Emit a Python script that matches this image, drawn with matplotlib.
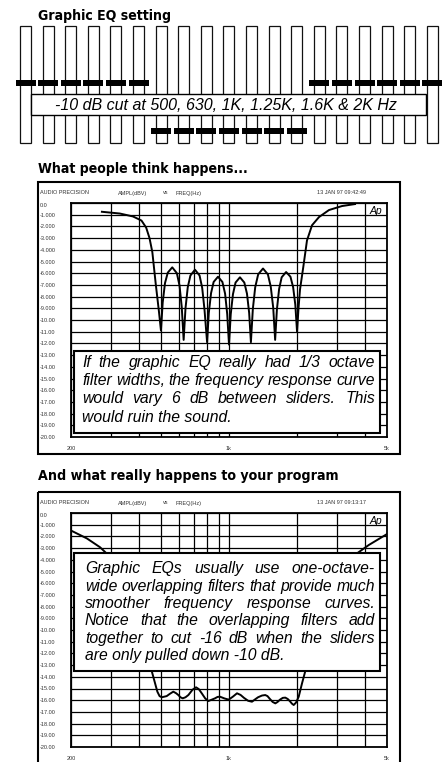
import os
import matplotlib
matplotlib.use('Agg')
import matplotlib.pyplot as plt
from matplotlib import font_manager as fm
from matplotlib.patches import Rectangle
from matplotlib.ticker import FixedLocator, NullLocator

plt.rcParams['font.family'] = ['Liberation Sans', 'DejaVu Sans']

W, H = 444, 762

# slider positions (dB) of the 19 bands shown in the EQ drawing
band_gain = [0, 0, 0, 0, 0, 0, -10, -10, -10, -10, -10, -10, -10, 0, 0, 0, 0, 0, 0]
eq_caption = "-10 dB cut at 500, 630, 1K, 1.25K, 1.6K & 2K Hz"

# chart 1: what people think (1/3 octave filters)
think_freq = [274, 329, 376, 410, 430, 445, 458, 474, 490,
              500, 509, 521, 536, 561, 588, 604, 618,
              630, 642, 657, 675, 707, 741, 761, 779,
              800, 814, 833, 855, 894, 935, 961, 982,
              1000, 1018, 1041, 1069, 1118, 1169, 1201, 1228,
              1250, 1275, 1306, 1346, 1414, 1486, 1530, 1569,
              1600, 1629, 1666, 1710, 1789, 1870, 1922, 1965,
              2000, 2030, 2061, 2132, 2184, 2213, 2330, 2502, 2770, 3162, 3610]
think_db = [-0.75, -0.9, -1.15, -1.5, -2.1, -3.0, -4.2, -6.9, -9.3,
            -10.9, -8.5, -6.85, -5.95, -5.5, -6.0, -7.05, -8.9,
            -11.7, -9.0, -7.2, -6.2, -5.7, -6.2, -7.25, -9.1,
            -11.9, -9.4, -7.7, -6.75, -6.3, -6.75, -7.75, -9.5,
            -12.1, -9.5, -7.8, -6.8, -6.35, -6.8, -7.75, -9.4,
            -11.9, -9.05, -7.2, -6.1, -5.6, -6.1, -7.15, -8.95,
            -11.7, -9.1, -7.35, -6.35, -5.9, -6.3, -7.2, -8.7,
            -11.0, -9.0, -7.4, -5.45, -4.0, -3.2, -1.9, -1.2, -0.6, -0.26, -0.09]

# chart 2: what really happens (octave-wide overlapping filters)
real_freq = [200, 235, 269, 300, 340, 380, 410, 435,
             455, 471, 482, 493, 504, 530, 548, 567, 583, 597, 610, 624,
             642, 661, 690, 715, 735, 757, 785, 810, 840, 867, 890, 912,
             955, 997, 1040, 1085, 1125, 1165, 1215, 1264, 1300, 1344, 1400, 1447,
             1480, 1518, 1560, 1603, 1640, 1682, 1730, 1775, 1820, 1862, 1900, 1933,
             1980, 2034, 2104, 2176, 2300, 2500, 2800, 3200, 3684, 4150, 5000]
real_db = [-1.5, -2.17, -2.93, -3.8, -5.2, -7.2, -9.2, -11.5,
           -13.5, -14.56, -15.27, -15.65, -15.75, -15.65, -15.45, -15.27, -15.4, -15.56, -15.75, -15.84,
           -15.75, -15.56, -15.1, -14.9, -15.05, -15.4, -15.85, -16.07, -15.95, -15.84, -15.72, -15.7,
           -15.85, -15.95, -15.7, -15.41, -15.55, -15.8, -16.05, -16.13, -15.95, -15.75, -15.6, -15.56,
           -15.65, -15.9, -16.15, -16.27, -16.15, -15.95, -15.8, -15.78, -15.9, -16.1, -16.3, -16.41,
           -16.2, -15.7, -14.56, -13.5, -11.0, -8.6, -6.6, -4.9, -3.45, -2.74, -1.8]

y_ticks = list(range(0, -21, -1))
x_grid = [200, 300, 400, 500, 600, 700, 800, 900, 1000, 2000, 3000, 4000, 5000]
x_names = {200: '200', 1000: '1k', 5000: '5k'}

think_text = ["If the graphic EQ really had 1/3 octave",
              "filter widths, the frequency response curve",
              "would vary 6 dB between sliders. This",
              "would ruin the sound."]
real_text = ["Graphic EQs usually use one-octave-",
             "wide overlapping filters that provide much",
             "smoother frequency response curves.",
             "Notice that the overlapping filters add",
             "together to cut -16 dB when the sliders",
             "are only pulled down -10 dB."]

SMALL = dict(fontsize=4, color='#333333')

# heavy condensed face for the headings if one is installed
cond = [f.fname for f in fm.fontManager.ttflist
        if 'DejaVuSansCondensed-Bold.ttf' == os.path.basename(f.fname)]
if cond:
    title_prop = fm.FontProperties(fname=cond[0])
else:
    title_prop = fm.FontProperties(family='Liberation Sans', weight='bold')


def ytick_name(v):
    if v == 0:
        return '0.0'
    if v > -10:
        return '%.3f' % v
    return '%.2f' % v


fig = plt.figure(figsize=(W / 100, H / 100), dpi=100)
renderer = fig.canvas.get_renderer()

ov = fig.add_axes([0, 0, 1, 1])
ov.set_xlim(0, W)
ov.set_ylim(H, 0)
ov.axis('off')
ov.set_zorder(5)


def heading(x, yb, s, width):
    # size the heading so that it spans the same width as in the original
    t = ov.text(x, yb, s, va='baseline', fontproperties=title_prop.copy())
    t.set_fontsize(10)
    w = t.get_window_extent(renderer).width
    t.set_fontsize(10 * width / w * 1.06)


def chart(top, freq, db):
    ax = fig.add_axes([71 / W, 1 - (top + 234) / H, 316 / W, 234 / H])
    ax.set_xscale('log')
    ax.set_xlim(200, 5000)
    ax.set_ylim(-20, 0)
    ax.xaxis.set_major_locator(FixedLocator(x_grid))
    ax.xaxis.set_minor_locator(NullLocator())
    ax.set_xticklabels([x_names.get(f, '') for f in x_grid])
    ax.set_yticks(y_ticks)
    ax.set_yticklabels([ytick_name(v) for v in y_ticks])
    ax.grid(True, color='black', lw=0.9)
    ax.tick_params(length=0, labelsize=4, labelcolor='#333333')
    ax.tick_params(axis='y', pad=22.3)
    ax.tick_params(axis='x', pad=6.5)
    for i, t in enumerate(ax.get_yticklabels()):
        t.set_horizontalalignment('left')
        if i == 0:
            t.set_verticalalignment('top')
    for s in ax.spines.values():
        s.set_linewidth(1.3)
    ax.plot(freq, db, color='black', lw=1.4, solid_joinstyle='round')
    return ax


chart(203, think_freq, think_db)
chart(513, real_freq, real_db)

# --- top EQ drawing ---
heading(38, 20, 'Graphic EQ setting', 125)
for i, g in enumerate(band_gain):
    x = 20 + 22.6 * i
    ov.add_patch(Rectangle((x, 26), 11, 117, fc='white', ec='#111111', lw=0.9, zorder=1))
    ky = 83 - g * 4.8
    ov.add_patch(Rectangle((x + 5.5 - 10, ky - 3), 20, 6, fc='black', ec='none', zorder=3))
ov.add_patch(Rectangle((31, 94), 395, 21, fc='white', ec='black', lw=1.0, zorder=2))
ov.text(226, 105, eq_caption, ha='center', va='center', fontstyle='italic',
        fontsize=11.5, zorder=4)

# --- chart frames and headers ---
heading(38, 173.5, 'What people think happens...', 197)
heading(38, 480, 'And what really happens to your program', 281)
ov.add_patch(Rectangle((37.5, 182), 362.5, 271.5, fill=False, ec='black', lw=1.5))
ov.add_patch(Rectangle((37.5, 491.5), 362.5, 300, fill=False, ec='black', lw=1.5))

for y0, stamp in [(193, '13 JAN 97 09:42:49'), (503, '13 JAN 97 09:13:17')]:
    ov.text(40, y0, 'AUDIO PRECISION', va='center', **SMALL)
    ov.text(118, y0, 'AMPL(dBV)', va='center', **SMALL)
    ov.text(163, y0, 'vs', va='center', **SMALL)
    ov.text(175, y0, 'FREQ(Hz)', va='center', **SMALL)
    ov.text(317, y0, stamp, va='center', **SMALL)
    ov.text(375.5, y0 + 21, 'Ap', ha='center', va='baseline', fontstyle='italic', fontsize=7.5)


def justified(lines, x0, x1, baselines, **kw):
    for k, (line, yb) in enumerate(zip(lines, baselines)):
        if k == len(lines) - 1:
            ov.text(x0, yb, line, va='baseline', ha='left', zorder=6, **kw)
            continue
        words = line.split()
        texts = [ov.text(0, yb, w, va='baseline', ha='left', zorder=6, **kw) for w in words]
        widths = [t.get_window_extent(renderer).width for t in texts]
        gap = (x1 - x0 - sum(widths)) / (len(words) - 1)
        x = x0
        for t, w in zip(texts, widths):
            t.set_x(x)
            x += w + gap


ov.add_patch(Rectangle((74, 351), 306, 82, fc='white', ec='black', lw=1.5, zorder=5))
justified(think_text, 82, 375, [366.7, 385, 403.3, 421.7], fontstyle='italic', fontsize=11.3)

ov.add_patch(Rectangle((74, 553), 306, 118, fc='white', ec='black', lw=1.5, zorder=5))
justified(real_text, 85, 375, [573.3, 590.7, 608, 625.3, 642.6, 660], fontstyle='italic', fontsize=11.3)

fig.savefig('out.png', dpi=100)
